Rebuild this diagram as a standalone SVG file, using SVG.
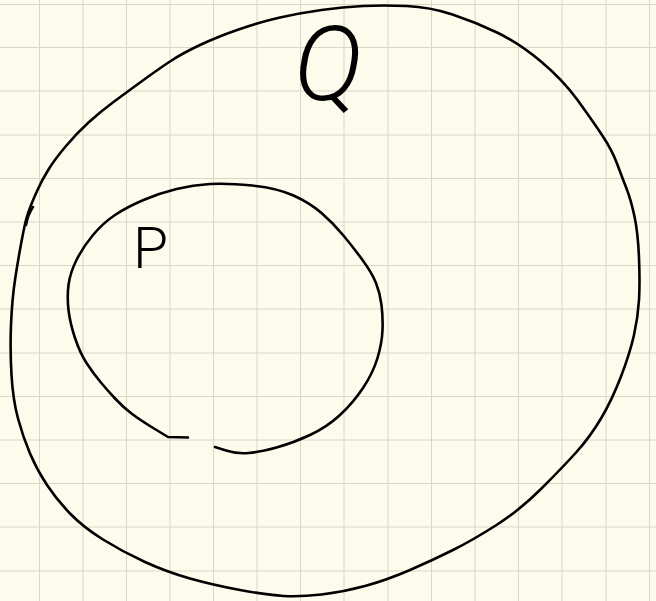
<svg xmlns="http://www.w3.org/2000/svg" width="656" height="601" viewBox="0 0 656 601">
<style>
.ink{fill:none;stroke:#000;stroke-width:2.6;stroke-linecap:round;stroke-linejoin:round}
.grid{fill:none;stroke:#d9d6c6;stroke-width:1}
.lbl{font-family:Roboto,"Open Sans","Liberation Sans",sans-serif;font-weight:300;fill:#000}
</style>
<rect width="656" height="601" fill="#fdfbec"/>
<g id="grid">
<path class="grid" d="M39.5,0V601M83,0V601M126.5,0V601M170,0V601M213.5,0V601M257,0V601M300.5,0V601M344,0V601M388,0V601M431.5,0V601M475,0V601M518.5,0V601M562,0V601M606,0V601M649.5,0V601"/>
<path class="grid" d="M0,4.5H656M0,47.5H656M0,91H656M0,135H656M0,178.5H656M0,222H656M0,265.5H656M0,309H656M0,353H656M0,396.5H656M0,440H656M0,483.5H656M0,527H656M0,571H656"/>
</g>
<g id="set-Q">
<path class="ink" d="M21.5,241.5 Q25,223 26.5,218 Q28,213 30.5,206.5 Q33,200 37.5,190 Q42,180 48.5,169.5 Q55,159 66,146 Q77,133 88.5,122.5 Q100,112 113.5,102 Q127,92 143.5,80 Q160,68 171.5,60.5 Q183,53 200,45 Q217,37 238.5,29.5 Q260,22 280,17.5 Q300,13 321.5,10 Q343,7 363,6 Q383,5 406.5,6 Q430,7 452.5,14.5 Q475,22 497,32.5 Q519,43 541,61.5 Q563,80 577.5,100 Q592,120 602,135 Q612,150 617,163.5 Q622,177 626.5,188.5 Q631,200 634.5,216.5 Q638,233 639,258 Q640,283 639,300 Q638,317 634,335 Q630,353 621,376.5 Q612,400 601,418.5 Q590,437 576.5,452 Q563,467 541.5,488.5 Q520,510 496.5,525 Q473,540 453,550 Q433,560 410,570 Q387,580 365,586 Q343,592 321.5,594.5 Q300,597 283.5,596 Q267,595 240,590 Q213,585 190,578.5 Q167,572 145,562 Q123,552 103,539.5 Q83,527 70,513.5 Q57,500 47,485 Q37,470 30,453.5 Q23,437 18,418.5 Q13,400 11.5,375 Q10,350 11,325 Q12,300 15,280 Q18,260 21.5,241.5 Z"/>
<path class="ink" d="M26,225 Q28,214 33,207"/>
<text id="label-Q" class="lbl" x="294" y="100" font-size="104" font-style="italic">Q</text>
</g>
<g id="set-P">
<path class="ink" d="M188,437.5 L168,437 L154,428.5 Q140,420 131.5,413.5 Q123,407 115.5,399 Q108,391 100.5,382 Q93,373 86.5,363 Q80,353 75,338 Q70,323 68.5,310 Q67,297 68.5,285 Q70,273 76.5,260 Q83,247 93,235 Q103,223 115,215 Q127,207 143.5,200 Q160,193 176.5,189 Q193,185 210,184 Q227,183 252,185.5 Q277,188 293.5,195.5 Q310,203 321.5,213 Q333,223 343,235 Q353,247 362.5,260 Q372,273 376,283 Q380,293 381.5,305 Q383,317 382.5,330 Q382,343 377.5,358 Q373,373 363,388 Q353,403 340,415 Q327,427 310,435 Q293,443 276.5,447.5 Q260,452 248.5,453 Q237,454 226,450.5 L215,447"/>
<text id="label-P" class="lbl" x="133" y="268" font-size="57">P</text>
</g>
</svg>
